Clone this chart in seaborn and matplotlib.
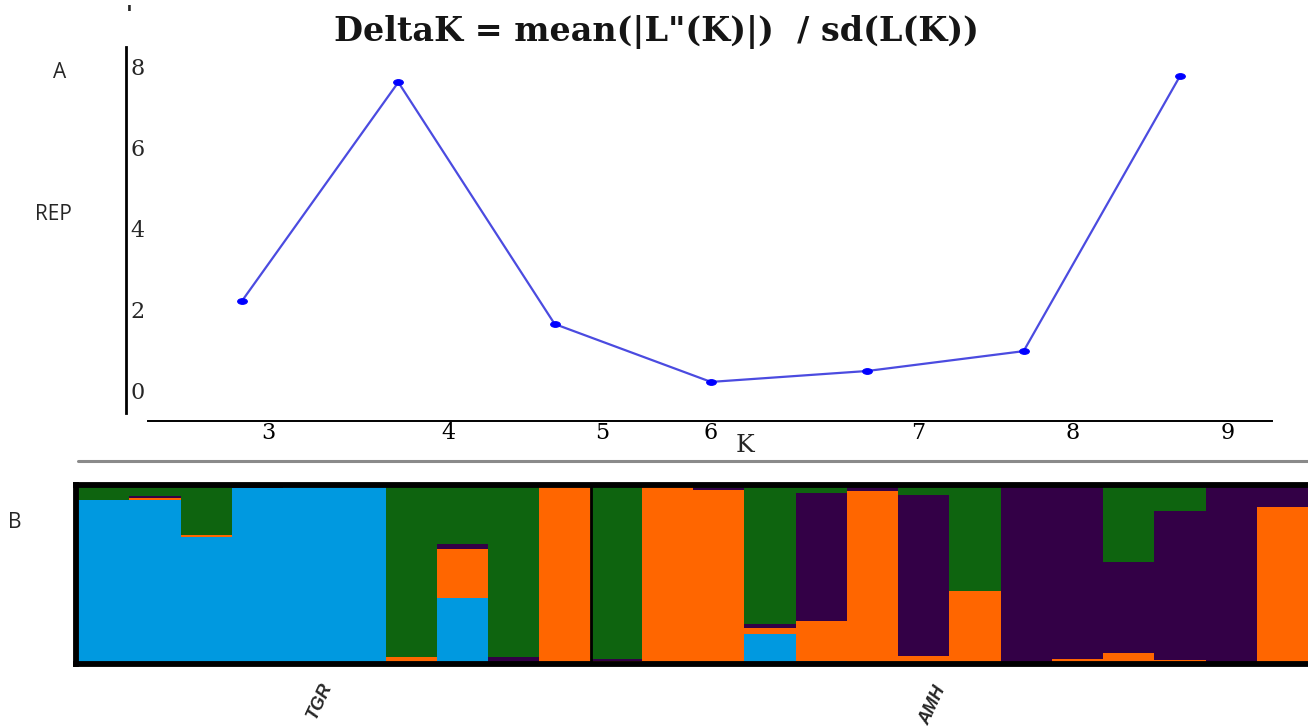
import numpy as np
import pandas as pd
import matplotlib
matplotlib.use("Agg")
import matplotlib.pyplot as plt
import matplotlib.transforms as mtransforms
from matplotlib.path import Path
from matplotlib.lines import Line2D
import seaborn as sns

# ---------------- data ----------------
K_values = [3, 4, 5, 6, 7, 8, 9]
delta_K = [2.2, 7.6, 1.63, 0.2, 0.47, 0.96, 7.75]
y_ticks = [0, 2, 4, 6, 8]

individuals = list(range(24))
q_blue = [0.916, 0.914, 0.709, 0.985, 0.99, 0.99, 0.01, 0.368, 0.005, 0.0, 0.01, 0.0,
          0.0, 0.167, 0.019, 0.0, 0.008, 0.004, 0.0, 0.0, 0.008, 0.0, 0.0, 0.0]
q_orange = [0.0, 0.013, 0.011, 0.0, 0.005, 0.005, 0.027, 0.272, 0.005, 0.987, 0.005, 0.99,
            0.973, 0.034, 0.22, 0.964, 0.038, 0.404, 0.005, 0.029, 0.054, 0.021, 0.005, 0.877]
q_purple = [0.0, 0.011, 0.0, 0.008, 0.0, 0.0, 0.0, 0.029, 0.027, 0.0, 0.015, 0.005,
            0.013, 0.023, 0.715, 0.023, 0.897, 0.0, 0.99, 0.97, 0.51, 0.831, 0.99, 0.123]
q_green = [0.084, 0.062, 0.28, 0.007, 0.005, 0.005, 0.963, 0.331, 0.963, 0.013, 0.97, 0.005,
           0.014, 0.776, 0.046, 0.013, 0.057, 0.592, 0.005, 0.001, 0.428, 0.148, 0.005, 0.0]
populations = ["TGR", "AMH"]
pop_boundary = 9.5

# ---------------- figure ----------------
sns.set_style("white")
plt.rcParams["font.family"] = ["DejaVu Serif", "DejaVu Sans"]

W, H = 1308, 726
fig = plt.figure(figsize=(W / 100, H / 100), dpi=100)


def rect(x0, y0, x1, y1):
    return [x0 / W, 1 - y1 / H, (x1 - x0) / W, (y1 - y0) / H]


# ---- Panel A: DeltaK line ----
ax1 = fig.add_axes(rect(126, 47, 1272, 421))
ell = Path.unit_circle().transformed(mtransforms.Affine2D().scale(1.7, 1.0))
df_k = pd.DataFrame({"K": K_values, "DeltaK": delta_K})
sns.lineplot(data=df_k, x="K", y="DeltaK", ax=ax1, color="#4b4be0", lw=1.6,
             marker=ell, markersize=7, markerfacecolor="#0000ff",
             markeredgecolor="#0000ff")
ax1.set_xlim(2.258, 9.589)
ax1.set_ylim(-0.765, 8.47)
for s in ["top", "right"]:
    ax1.spines[s].set_visible(False)
ax1.spines["left"].set_bounds(-0.57, 8.47)
ax1.spines["left"].set_linewidth(2.0)
ax1.spines["left"].set_color("black")
ax1.spines["bottom"].set_bounds(2.399, 9.589)
ax1.spines["bottom"].set_linewidth(1.4)
ax1.spines["bottom"].set_color("black")

ax1.set_xticks(K_values)
ax1.set_xticklabels([str(k) for k in K_values], fontsize=16)
ax1.tick_params(axis="x", direction="in", length=6, width=1.4, pad=1, colors="black")
ax1.set_yticks(y_ticks)
ax1.set_yticklabels([str(v) for v in y_ticks], fontsize=16)
ax1.tick_params(axis="y", direction="in", length=4, width=1.2, pad=-3)
for lab in ax1.get_yticklabels():
    lab.set_horizontalalignment("left")
# shifted x tick labels as in the reference
x_offsets = [26, 50, 48, 0, 51, 49, 48]
for lab, dx in zip(ax1.get_xticklabels(), x_offsets):
    lab.set_transform(lab.get_transform() +
                      mtransforms.ScaledTranslation(dx / 100, 0, fig.dpi_scale_trans))
ax1.set_xlabel("K", fontsize=18, va="center")
ax1.xaxis.set_label_coords((745 - 126) / (1272 - 126), -(446 - 421) / (421 - 47))
ax1.set_ylabel("")
ax1.grid(False)

fig.text(656 / W, 1 - 32 / H, 'DeltaK = mean(|L"(K)|)  / sd(L(K))',
         ha="center", va="center", fontsize=24, fontweight="bold", color="#151515")
fig.text(129 / W, 1 - 15 / H, "'", ha="center", va="center", fontsize=16,
         fontweight="bold", family="DejaVu Sans")

# panel letters
fig.text(60 / W, 1 - 72 / H, "A", ha="center", va="center", fontsize=15,
         family=["Open Sans", "DejaVu Sans"])
fig.text(53 / W, 1 - 215 / H, "REP", ha="center", va="center", fontsize=15,
         family=["Open Sans", "DejaVu Sans"])
fig.text(15 / W, 1 - 523 / H, "B", ha="center", va="center", fontsize=15,
         family=["Open Sans", "DejaVu Sans"])

# separator line
fig.add_artist(Line2D([78 / W, 1308 / W], [1 - 461 / H, 1 - 461 / H],
                      color="#8a8a8a", lw=2.2))

# ---- Panel B: STRUCTURE bar plot ----
ax2 = fig.add_axes(rect(76, 485, 1308, 664))
qb = np.array(q_blue)
qo = np.array(q_orange)
qp = np.array(q_purple)
qg = np.array(q_green)
layers = [
    (qb + qo + qp + qg, "#0e640f"),
    (qb + qo + qp, "#330046"),
    (qb + qo, "#ff6600"),
    (qb, "#0099e0"),
]
for vals, col in layers:
    sns.barplot(x=individuals, y=vals, ax=ax2, color=col, width=1.0,
                linewidth=0, saturation=1, errorbar=None)
ax2.set_xlim(-0.54, 23.5)
ax2.set_ylim(0, 1)
ax2.axvline(pop_boundary, color="black", lw=2)
ax2.set_xticks([])
ax2.set_yticks([])
ax2.set_xlabel("")
ax2.set_ylabel("")
for s in ["top", "bottom", "left"]:
    ax2.spines[s].set_color("black")
    ax2.spines[s].set_linewidth(4.2)
ax2.spines["right"].set_visible(False)

fig.text(320 / W, 1 - 701 / H, populations[0], ha="center", va="center",
         rotation=65, fontsize=13, fontstyle="italic", fontweight="bold",
         family=["Liberation Sans", "DejaVu Sans"])
fig.text(933 / W, 1 - 706 / H, populations[1], ha="center", va="center",
         rotation=65, fontsize=13, fontstyle="italic", fontweight="bold",
         family=["Liberation Sans", "DejaVu Sans"])

fig.savefig("out.png", dpi=100)
